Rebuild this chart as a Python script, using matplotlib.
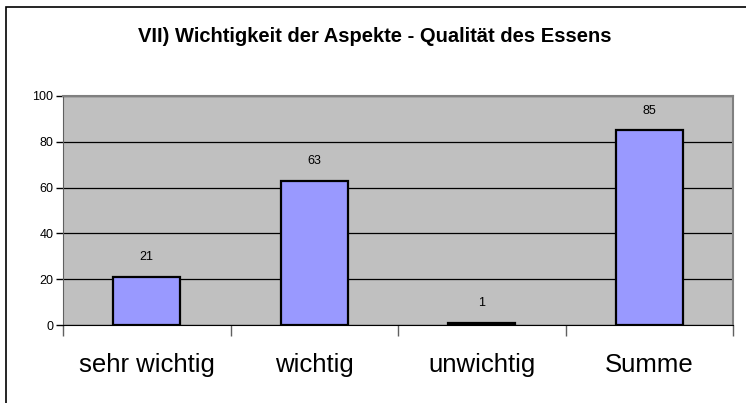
import matplotlib.pyplot as plt
from matplotlib.patches import Rectangle

categories = ['sehr wichtig', 'wichtig', 'unwichtig', 'Summe']
values = [21, 63, 1, 85]
y_ticks = [0, 20, 40, 60, 80, 100]

plt.rcParams['font.family'] = ['Liberation Sans', 'DejaVu Sans']

W, H = 746, 403
fig = plt.figure(figsize=(W / 100, H / 100), dpi=100)

# outer chart border (only left and top visible)
fig.patches.append(Rectangle((6 / W, -0.1), 1.2, (H - 7) / H + 0.1,
                             transform=fig.transFigure, fill=False,
                             edgecolor='black', linewidth=1.2))

left, right, top, bottom = 63, 733, 96, 325
ax = fig.add_axes([left / W, 1 - bottom / H, (right - left) / W, (bottom - top) / H])
ax.set_facecolor('#C0C0C0')

x = range(len(categories))
bars = ax.bar(x, values, width=0.4, color='#9999FF', edgecolor='black',
              linewidth=1.6, zorder=3)
for xi, v in zip(x, values):
    ax.text(xi, v + 6, str(v), ha='center', va='bottom', fontsize=9)

ax.set_xlim(-0.5, len(categories) - 0.5)
ax.set_ylim(0, 100)
ax.set_yticks(y_ticks)
ax.tick_params(axis='y', labelsize=9, length=5, width=1, pad=2)
ax.yaxis.grid(True, color='black', linewidth=0.9, zorder=1)
ax.set_axisbelow(True)

ax.set_xticks([i + 0.5 for i in range(-1, len(categories))], minor=False)
ax.set_xticklabels([])
ax.tick_params(axis='x', length=8, width=1, color='#606060')
ax.set_xticks(list(x), minor=True)
ax.set_xticklabels(categories, minor=True, fontsize=18.5)
ax.tick_params(axis='x', which='minor', length=0, pad=20)

for s in ['top', 'right']:
    ax.spines[s].set_color('#808080')
    ax.spines[s].set_linewidth(1.5)
ax.spines['left'].set_color('#606060')
ax.spines['bottom'].set_color('black')

fig.text(375 / W, 1 - 37 / H, 'VII) Wichtigkeit der Aspekte - Qualität des Essens',
         ha='center', va='center', fontsize=14.5, fontweight='bold')

fig.savefig('out.png', dpi=100)
